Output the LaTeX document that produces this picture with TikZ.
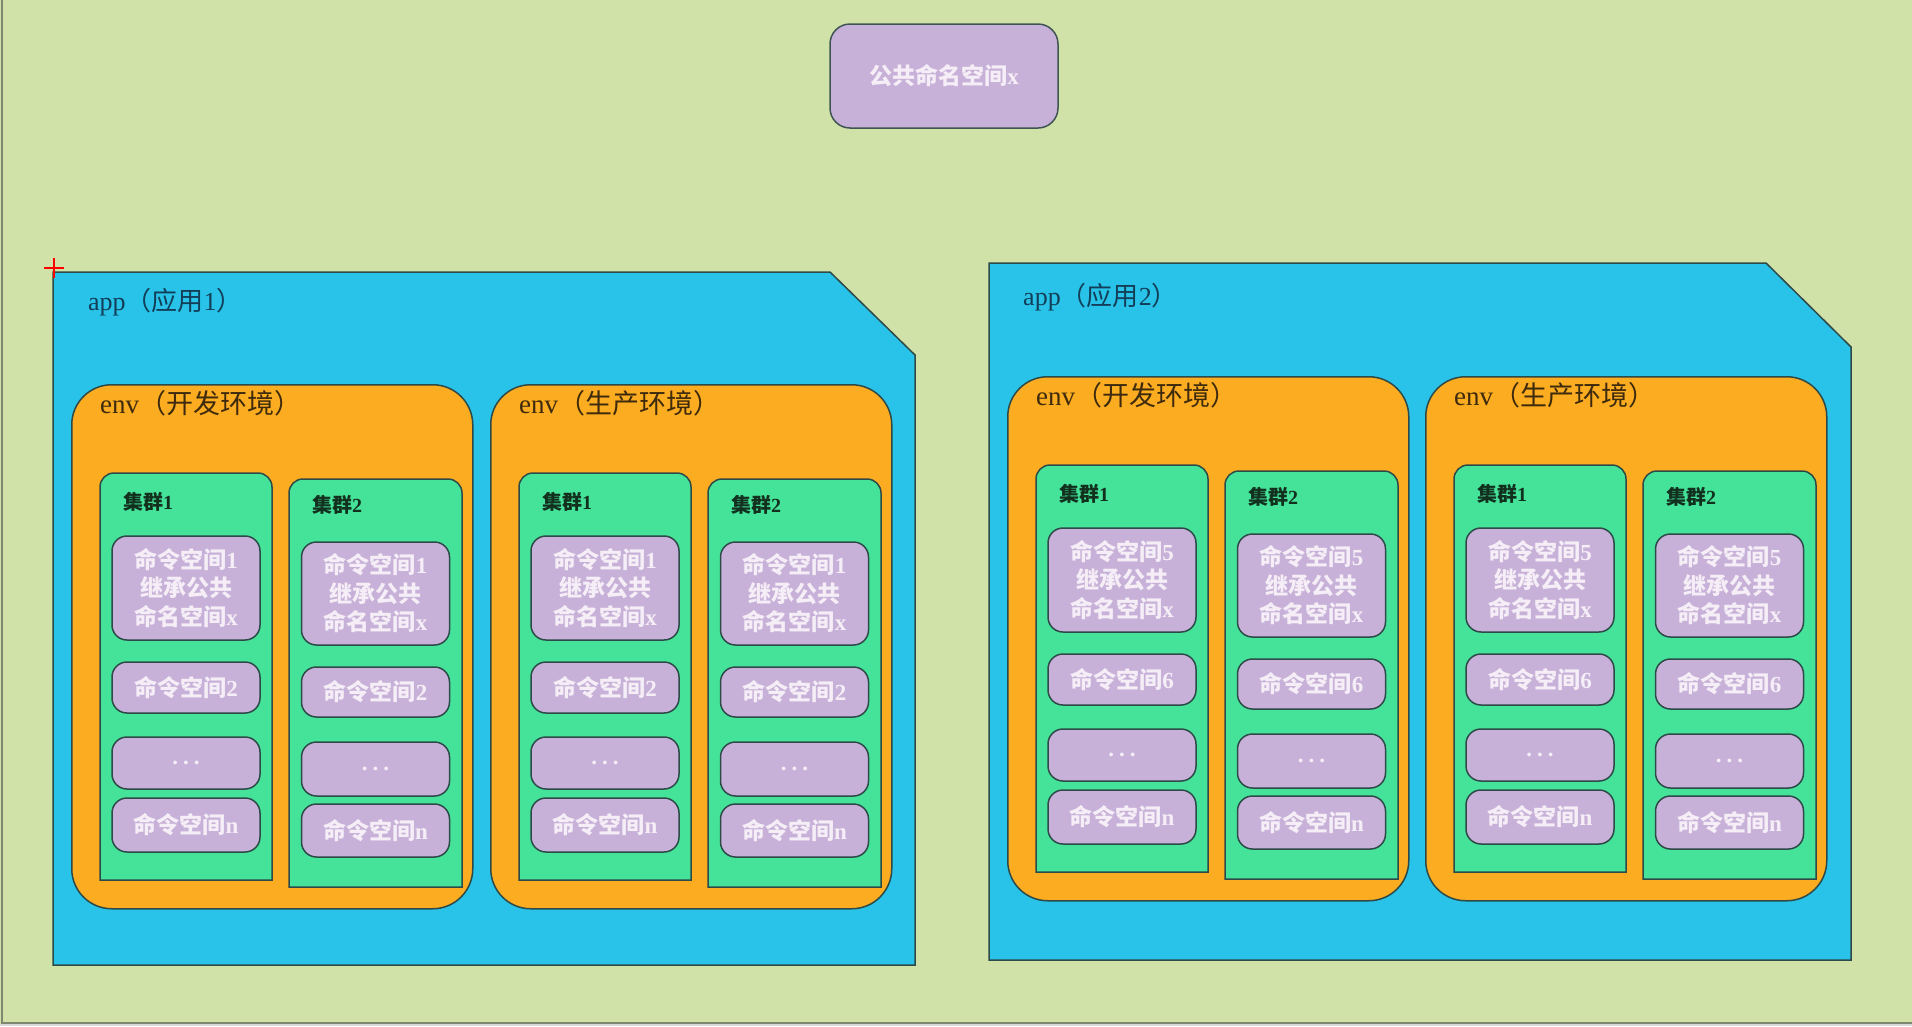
\documentclass[tikz,border=0pt]{standalone}
\usepackage{fontspec}
\setmainfont{Liberation Serif}
\newfontfamily\cjk{Noto Sans CJK SC}
\newcommand\zh[1]{{\cjk #1}}
\definecolor{bg}{HTML}{D0E2A8}
\definecolor{appblue}{HTML}{29C2E8}
\definecolor{envorange}{HTML}{FBAC21}
\definecolor{clgreen}{HTML}{45E39A}
\definecolor{nslav}{HTML}{C8B1D8}
\definecolor{edge}{HTML}{2E4A48}
\definecolor{apptext}{HTML}{123E58}
\definecolor{envtext}{HTML}{3E2A0C}
\definecolor{cltext}{HTML}{12301E}
\definecolor{nstext}{HTML}{F5EEF7}
\definecolor{framegray}{HTML}{7E8870}

\newcommand\EnvBlock[6]{%
\begin{scope}[shift={(#2,-#3)}]
  \node[envbox, anchor=north west, minimum width=401pt, minimum height=524pt] (#1) at (0,0) {};
  \node[envlabel, anchor=west] (#1-lbl) at (29,-19) {env\zh{#4}};
  % cluster 1
  \draw[clusterbox] (29,-496) -- (29,-103) arc[start angle=180,end angle=90,radius=14] -- (187,-89) arc[start angle=90,end angle=0,radius=14] -- (201,-496) -- cycle;
  \node[cltitle, anchor=west] (#1-c1) at (52,-118) {\zh{集群}1};
  \node[nsbox, minimum height=104pt] (#1-c1a) at (115,-204) {\zh{命令空间}#5\\\zh{继承公共}\\\zh{命名空间}x};
  \node[nsbox, minimum height=51pt] (#1-c1b) at (115,-303.5) {\zh{命令空间}#6};
  \node[nsbox, minimum height=52pt] (#1-c1c) at (115,-379) {.\hspace{5pt}.\hspace{5pt}.};
  \node[nsbox, minimum height=54pt] (#1-c1d) at (115,-441) {\zh{命令空间}n};
  % cluster 2
  \draw[clusterbox] (218,-503) -- (218,-109) arc[start angle=180,end angle=90,radius=14] -- (377,-95) arc[start angle=90,end angle=0,radius=14] -- (391,-503) -- cycle;
  \node[cltitle, anchor=west] (#1-c2) at (241,-121) {\zh{集群}2};
  \node[nsbox, minimum height=103pt] (#1-c2a) at (304.5,-209.5) {\zh{命令空间}#5\\\zh{继承公共}\\\zh{命名空间}x};
  \node[nsbox, minimum height=50pt] (#1-c2b) at (304.5,-308) {\zh{命令空间}#6};
  \node[nsbox, minimum height=54pt] (#1-c2c) at (304.5,-385) {.\hspace{5pt}.\hspace{5pt}.};
  \node[nsbox, minimum height=53pt] (#1-c2d) at (304.5,-446.5) {\zh{命令空间}n};
\end{scope}}

\begin{document}
\begin{tikzpicture}[x=1pt,y=1pt,
  appbox/.style={fill=appblue, draw=edge, line width=1.5pt, line join=miter},
  envbox/.style={fill=envorange, draw=edge, line width=1.5pt, rounded corners=40pt, inner sep=0pt},
  clusterbox/.style={fill=clgreen, draw=edge, line width=1.5pt},
  nsbox/.style={fill=nslav, draw=edge, line width=1.5pt, rounded corners=15pt, inner sep=0pt,
    minimum width=148pt, text=nstext, align=center, font=\fontsize{23}{28.5}\selectfont\bfseries},
  pubbox/.style={fill=nslav, draw=edge!80!gray, line width=1.5pt, rounded corners=20pt, inner sep=0pt,
    text=nstext, font=\fontsize{23}{28}\selectfont\bfseries},
  applabel/.style={text=apptext, inner sep=0pt, font=\fontsize{26}{30}\selectfont},
  envlabel/.style={text=envtext, inner sep=0pt, font=\fontsize{27}{30}\selectfont},
  cltitle/.style={text=cltext, inner sep=0pt, font=\fontsize{20}{24}\selectfont\bfseries},
]
\useasboundingbox (0,0) rectangle (1912,-1026);
% background and frame
\fill[bg] (0,0) rectangle (1912,-1026);
\fill[gray!30] (0,-1024) rectangle (1912,-1026);
\draw[framegray, line width=2pt] (2,0) -- (2,-1023) -- (1912,-1023);

% public namespace
\node[pubbox, minimum width=228pt, minimum height=104pt] (pub) at (944,-76) {\zh{公共命名空间}x};

% app 1
\draw[appbox] (53,-272) -- (830,-272) -- (915,-355) -- (915,-965) -- (53,-965) -- cycle;
\coordinate (app1) at (53,-272);
\node[applabel, anchor=west] (app1-lbl) at (88,-302) {app\zh{（应用}1\zh{）}};
\EnvBlock{a1dev}{71}{384}{（开发环境）}{1}{2}
\EnvBlock{a1prod}{490}{384}{（生产环境）}{1}{2}

% app 2
\draw[appbox] (989,-263) -- (1766,-263) -- (1851,-347) -- (1851,-960) -- (989,-960) -- cycle;
\coordinate (app2) at (989,-263);
\node[applabel, anchor=west] (app2-lbl) at (1023,-297) {app\zh{（应用}2\zh{）}};
\EnvBlock{a2dev}{1007}{376}{（开发环境）}{5}{6}
\EnvBlock{a2prod}{1425}{376}{（生产环境）}{5}{6}

% red cursor mark
\coordinate (cur) at (54,-268);
\draw[red, line width=2.5pt] ([xshift=-10pt]cur) -- ([xshift=10pt]cur);
\draw[red, line width=2.5pt] ([yshift=-10pt]cur) -- ([yshift=10pt]cur);
\end{tikzpicture}
\end{document}
